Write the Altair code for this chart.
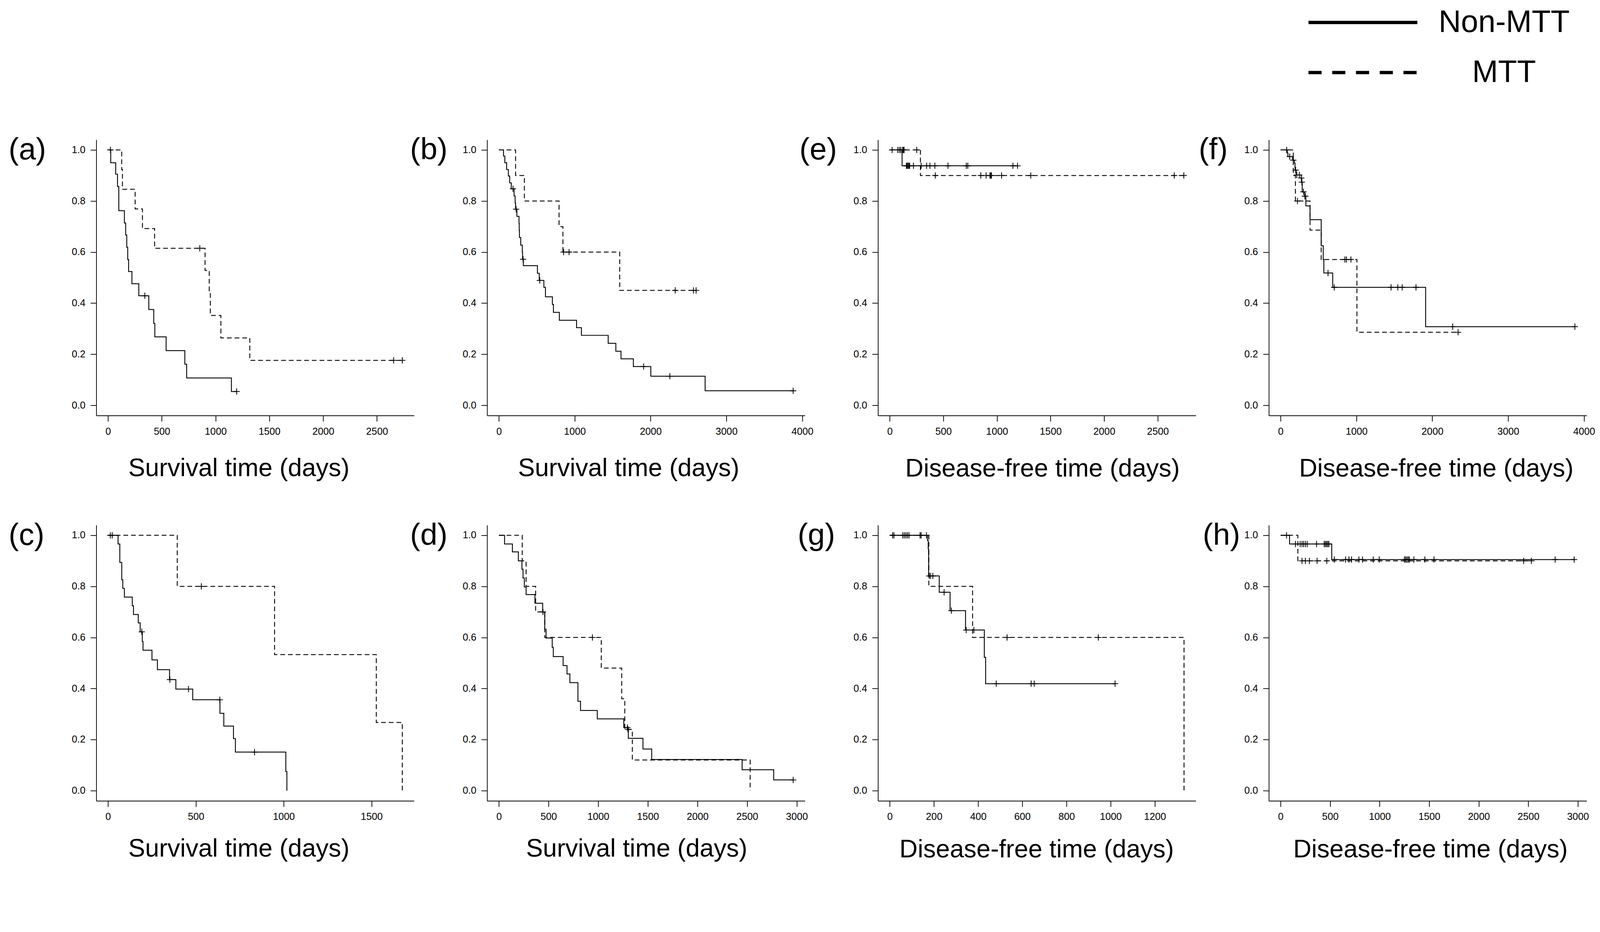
import altair as alt
import pandas as pd

FONT = "Liberation Sans"

# ---------------- data (time in days, survival probability) ----------------
# (a) Survival
a_non_t = [0, 25, 71, 88, 100, 152, 164, 174, 183, 191, 222, 286, 379, 425, 435, 540, 714, 731, 1147, 1196]
a_non_s = [1.0, 0.950, 0.905, 0.857, 0.762, 0.714, 0.667, 0.619, 0.571, 0.524, 0.476, 0.429, 0.375, 0.321, 0.268, 0.214, 0.161, 0.107, 0.054, 0.054]
a_non_c = [22, 342, 1196]
a_mtt_t = [0, 127, 134, 252, 320, 433, 902, 941, 951, 1049, 1318, 2736]
a_mtt_s = [1.0, 0.923, 0.846, 0.769, 0.692, 0.615, 0.528, 0.440, 0.352, 0.264, 0.176, 0.176]
a_mtt_c = [853, 2655, 2736]

# (b) Survival
b_non_t = [0, 61, 78, 102, 125, 142, 163, 200, 214, 220, 237, 265, 268, 271, 288, 308, 312, 322, 508, 532,
           593, 614, 705, 719, 797, 1024, 1088, 1441, 1542, 1610, 1773, 2003, 2719, 3880]
b_non_s = [1.0, 0.976, 0.950, 0.923, 0.898, 0.871, 0.848, 0.820, 0.792, 0.768, 0.740, 0.713, 0.685, 0.657, 0.627, 0.600, 0.572, 0.547, 0.517, 0.489,
           0.462, 0.425, 0.395, 0.364, 0.333, 0.304, 0.274, 0.243, 0.212, 0.182, 0.152, 0.114, 0.057, 0.057]
b_non_c = [186, 227, 319, 539, 1908, 2254, 3880]
b_mtt_t = [0, 220, 336, 793, 844, 1593, 2600]
b_mtt_s = [1.0, 0.9, 0.8, 0.7, 0.6, 0.45, 0.45]
b_mtt_c = [854, 925, 2325, 2566, 2600]

# (c) Survival
c_non_t = [0, 57, 67, 78, 84, 93, 138, 145, 172, 183, 195, 199, 250, 281, 350, 386, 482, 637, 659, 714, 725, 1012, 1018]
c_non_s = [1.0, 0.966, 0.894, 0.826, 0.792, 0.758, 0.724, 0.690, 0.657, 0.622, 0.584, 0.550, 0.512, 0.474, 0.435, 0.398, 0.356, 0.303, 0.253, 0.204, 0.151, 0.075, 0.0]
c_non_c = [13, 24, 192, 352, 458, 636, 834]
c_mtt_t = [0, 394, 948, 1527, 1675]
c_mtt_s = [1.0, 0.8, 0.533, 0.267, 0.0]
c_mtt_c = [531]

# (d) Survival
d_non_t = [0, 57, 136, 196, 232, 243, 256, 274, 363, 441, 462, 475, 537, 548, 647, 686, 715, 796, 822, 991,
           1258, 1304, 1451, 1539, 2450, 2768, 2964]
d_non_s = [1.0, 0.966, 0.935, 0.900, 0.867, 0.833, 0.798, 0.768, 0.734, 0.699, 0.632, 0.598, 0.561, 0.525, 0.490, 0.457, 0.423, 0.350, 0.314, 0.281,
           0.247, 0.205, 0.163, 0.122, 0.082, 0.042, 0.042]
d_non_c = [1294, 2964]
d_mtt_t = [0, 235, 274, 370, 462, 1031, 1237, 1268, 1344, 2531]
d_mtt_s = [1.0, 0.9, 0.8, 0.7, 0.6, 0.48, 0.36, 0.24, 0.12, 0.0]
d_mtt_c = [444, 942, 1300]

# (e) Disease-free
e_non_t = [0, 115, 1195]
e_non_s = [1.0, 0.938, 0.938]
e_non_c = [22, 75, 90, 103, 155, 162, 170, 178, 186, 221, 293, 344, 375, 421, 543, 714, 728, 1149, 1192]
e_mtt_t = [0, 286, 2745]
e_mtt_s = [1.0, 0.9, 0.9]
e_mtt_c = [120, 127, 134, 252, 425, 849, 899, 935, 942, 949, 1043, 1315, 2654, 2743]

# (f) Disease-free
f_non_t = [0, 88, 96, 159, 183, 190, 205, 270, 278, 285, 317, 333, 388, 535, 562, 570, 687, 1912, 3880]
f_non_s = [1.0, 0.988, 0.974, 0.960, 0.948, 0.921, 0.902, 0.890, 0.874, 0.836, 0.819, 0.781, 0.727, 0.625, 0.571, 0.518, 0.462, 0.308, 0.308]
f_non_c = [80, 120, 168, 199, 214, 246, 272, 280, 301, 320, 326, 625, 707, 1456, 1545, 1603, 1785, 2269, 3880]
f_mtt_t = [0, 167, 195, 388, 535, 1006, 2340]
f_mtt_s = [1.0, 0.9, 0.8, 0.686, 0.571, 0.286, 0.286]
f_mtt_c = [222, 848, 869, 927, 2340]

# (g) Disease-free
g_non_t = [0, 171, 174, 176, 224, 273, 343, 428, 434, 1020]
g_non_s = [1.0, 0.98, 0.947, 0.841, 0.777, 0.705, 0.629, 0.522, 0.419, 0.419]
g_non_c = [13, 19, 59, 66, 73, 80, 87, 137, 142, 166, 179, 185, 195, 246, 279, 346, 381, 482, 640, 654, 1020]
g_mtt_t = [0, 177, 375, 1332]
g_mtt_s = [1.0, 0.8, 0.6, 0.0]
g_mtt_c = [531, 944]

# (h) Disease-free
h_non_t = [0, 90, 516, 2970]
h_non_s = [1.0, 0.966, 0.905, 0.905]
h_non_c = [60, 150, 197, 216, 232, 250, 268, 363, 440, 452, 464, 476, 488, 542, 655, 690, 716, 790, 827,
           935, 995, 1250, 1262, 1275, 1288, 1300, 1345, 1456, 1548, 2771, 2963]
h_mtt_t = [0, 174, 2531]
h_mtt_s = [1.0, 0.9, 0.9]
h_mtt_c = [216, 250, 290, 368, 466, 2453, 2531]

GROUPS = ["Non-MTT", "MTT"]
SURV_TITLE = "Survival time (days)"
DFS_TITLE = "Disease-free time (days)"

PANELS = {
    "a": ((a_non_t, a_non_s, a_non_c), (a_mtt_t, a_mtt_s, a_mtt_c)),
    "b": ((b_non_t, b_non_s, b_non_c), (b_mtt_t, b_mtt_s, b_mtt_c)),
    "c": ((c_non_t, c_non_s, c_non_c), (c_mtt_t, c_mtt_s, c_mtt_c)),
    "d": ((d_non_t, d_non_s, d_non_c), (d_mtt_t, d_mtt_s, d_mtt_c)),
    "e": ((e_non_t, e_non_s, e_non_c), (e_mtt_t, e_mtt_s, e_mtt_c)),
    "f": ((f_non_t, f_non_s, f_non_c), (f_mtt_t, f_mtt_s, f_mtt_c)),
    "g": ((g_non_t, g_non_s, g_non_c), (g_mtt_t, g_mtt_s, g_mtt_c)),
    "h": ((h_non_t, h_non_s, h_non_c), (h_mtt_t, h_mtt_s, h_mtt_c)),
}


def surv_at(ts, ss, t):
    v = ss[0]
    for ti, si in zip(ts, ss):
        if ti <= t:
            v = si
        else:
            break
    return v


rows = []
for key, curves in PANELS.items():
    for grp, (ts, ss, cs) in zip(GROUPS, curves):
        for t, s in zip(ts, ss):
            rows.append({"panel": key, "group": grp, "kind": "step", "t": t, "s": s})
        for c in cs:
            rows.append({"panel": key, "group": grp, "kind": "cens", "t": c, "s": surv_at(ts, ss, c)})
df = pd.DataFrame(rows)

CROSS = "M-1,0L1,0M0,-1L0,1"

# panel key, x title, tick values, label dx, title x, title y
LAYOUT = [
    ("a", SURV_TITLE, [0, 500, 1000, 1500, 2000, 2500], -240, 390, 165),
    ("b", SURV_TITLE, [0, 1000, 2000, 3000, 4000], -211, 387, 165),
    ("e", DFS_TITLE, [0, 500, 1000, 1500, 2000, 2500], -215, 450, 167),
    ("f", DFS_TITLE, [0, 1000, 2000, 3000, 4000], -192, 458, 167),
    ("c", SURV_TITLE, [0, 500, 1000, 1500], -240, 390, 152),
    ("d", SURV_TITLE, [0, 500, 1000, 1500, 2000, 2500, 3000], -211, 409, 152),
    ("g", DFS_TITLE, [0, 200, 400, 600, 800, 1000, 1200], -220, 434, 154),
    ("h", DFS_TITLE, [0, 500, 1000, 1500, 2000, 2500, 3000], -181, 442, 154),
]


def make_panel(key, xtitle, ticks, label_dx, title_x, title_y, with_legend=False):
    xmax = float(df[df.panel == key].t.max())
    common_axis = dict(labelFont=FONT, labelFontSize=27, labelColor="black",
                       tickSize=16, tickWidth=2, tickColor="black",
                       domainColor="black", domainWidth=2, grid=False,
                       labelOverlap=False, labelFlush=False)
    x = alt.X("t:Q",
              scale=alt.Scale(domain=[-0.04 * xmax, 1.04 * xmax], nice=False, zero=False),
              axis=alt.Axis(values=ticks, format="d", title=xtitle, labelPadding=15,
                            titleX=title_x, titleY=title_y, titleAlign="center",
                            titleBaseline="alphabetic", titleFont=FONT, titleFontSize=69,
                            titleFontWeight="normal", titleColor="black", **common_axis))
    y = alt.Y("s:Q",
              scale=alt.Scale(domain=[-0.04, 1.04], nice=False, zero=False),
              axis=alt.Axis(values=[0, 0.2, 0.4, 0.6, 0.8, 1.0], format=".1f", title=None,
                            labelPadding=14, **common_axis))
    base = alt.Chart(df).transform_filter(alt.datum.panel == key)
    solid = base.transform_filter((alt.datum.kind == "step") & (alt.datum.group == "Non-MTT")).mark_line(
        interpolate="step-after", color="black", strokeWidth=2.4).encode(x=x, y=y)
    dashed = base.transform_filter((alt.datum.kind == "step") & (alt.datum.group == "MTT")).mark_line(
        interpolate="step-after", color="black", strokeWidth=2.4, strokeDash=[13, 8]).encode(x=x, y=y)
    cens = base.transform_filter(alt.datum.kind == "cens").mark_point(
        shape=CROSS, size=289, filled=False, color="black", strokeWidth=2.2, opacity=1).encode(x=x, y=y)
    layers = [solid, dashed, cens]
    if with_legend:
        leg = base.transform_filter(alt.datum.kind == "legend-only").mark_line(color="black").encode(
            x=x, y=y,
            strokeDash=alt.StrokeDash(
                "group:N",
                scale=alt.Scale(domain=GROUPS, range=[[1, 0], [36, 29]]),
                legend=alt.Legend(title=None, orient="none", legendX=3314, legendY=-363.5,
                                  direction="vertical", symbolType="stroke", symbolSize=88804,
                                  symbolStrokeWidth=9, symbolStrokeColor="black", clipHeight=85,
                                  labelFont=FONT, labelFontSize=85, labelColor="black",
                                  labelAlign="center", labelOffset=233, labelLimit=1000,
                                  rowPadding=51, padding=0)))
        layers.append(leg)
    return alt.layer(*layers).properties(
        width=870, height=755,
        title=alt.TitleParams(text="(" + key + ")", font=FONT, fontSize=84, fontWeight="normal",
                              color="black", anchor="start", frame="group", align="left",
                              baseline="alphabetic", offset=0, dx=label_dx, dy=138))


panels = [make_panel(k, xt, tv, ldx, tx, ty, with_legend=(k == "f")) for k, xt, tv, ldx, tx, ty in LAYOUT]

chart = alt.concat(*panels, columns=4, spacing={"row": 300, "column": 200}, bounds="flush").properties(
    padding={"left": 15, "top": -69, "right": 5, "bottom": 5}
).configure(background="white").configure_view(stroke=None)

chart.save("out.html", embed_options={"renderer": "svg", "actions": False})
